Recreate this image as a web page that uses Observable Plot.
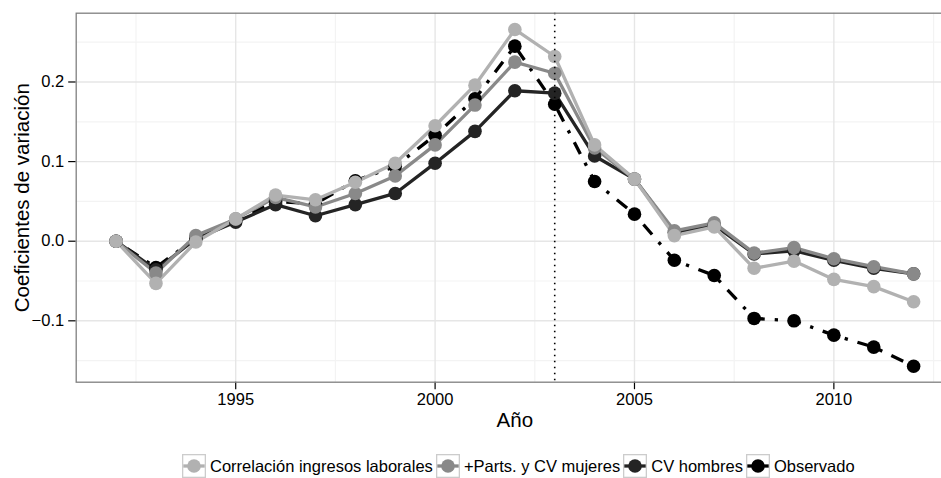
<!DOCTYPE html>
<html>
<head>
<meta charset="utf-8">
<script src="https://cdn.jsdelivr.net/npm/d3@7"></script>
<script src="https://cdn.jsdelivr.net/npm/@observablehq/plot@0.6"></script>
<style>
html, body { margin: 0; padding: 0; background: #fff; overflow: hidden; width: 941px; height: 478px; }
#wrap { position: relative; width: 941px; height: 478px; overflow: hidden; font-family: "Liberation Sans", Arial, sans-serif; }
#chart { width: 960px; }
#chart svg { max-width: none !important; }
#legend { position: absolute; left: 182px; top: 454px; display: flex; align-items: center; font-size: 16.5px; color: #000; white-space: nowrap; }
.item { display: flex; align-items: center; margin-right: 3px; }
.item svg { margin-right: 4px; display: block; }
</style>
</head>
<body>
<div id="wrap"><div id="chart"></div><div id="legend"></div></div>
<script>
// ---- data ----
const years = [1992, 1993, 1994, 1995, 1996, 1997, 1998, 1999, 2000, 2001, 2002,
               2003, 2004, 2005, 2006, 2007, 2008, 2009, 2010, 2011, 2012];

const seriesNames = ["Correlación ingresos laborales", "+Parts. y CV mujeres", "CV hombres", "Observado"];

const correlacion  = [0, -0.053, -0.001, 0.028, 0.058, 0.052, 0.074, 0.098, 0.145, 0.196, 0.266,
                      0.232, 0.121, 0.078, 0.007, 0.018, -0.034, -0.025, -0.048, -0.057, -0.076];
const partsMujeres = [0, -0.040, 0.007, 0.028, 0.055, 0.043, 0.060, 0.082, 0.121, 0.171, 0.225,
                      0.211, 0.117, 0.078, 0.013, 0.023, -0.015, -0.008, -0.022, -0.032, -0.041];
const cvHombres    = [0, -0.036, 0.003, 0.024, 0.046, 0.032, 0.046, 0.060, 0.098, 0.138, 0.189,
                      0.186, 0.107, 0.078, 0.011, 0.020, -0.016, -0.012, -0.024, -0.034, -0.041];
const observado    = [0, -0.033, 0.004, 0.026, 0.050, 0.047, 0.076, 0.094, 0.133, 0.179, 0.245,
                      0.172, 0.075, 0.034, -0.024, -0.043, -0.097, -0.100, -0.118, -0.133, -0.157];

const seriesValues = [correlacion, partsMujeres, cvHombres, observado];
const seriesColors = ["#b1b1b1", "#898989", "#242424", "#000000"];
const seriesDashed = [false, false, false, true];

const xTicks = [1995, 2000, 2005, 2010];
const yTicks = [-0.1, 0, 0.1, 0.2];
const xMinor = [1992.5, 1997.5, 2002.5, 2007.5, 2012.5];
const yMinor = [-0.15, -0.05, 0.05, 0.15, 0.25];
const markerYear = [2003];

const xTitle = "Año";
const yTitle = "Coeficientes de variación";

// ---- build ----
const W = 960, H = 440;
const series = seriesNames.map((name, i) => ({
  name, color: seriesColors[i], dashed: seriesDashed[i],
  rows: years.map((yr, j) => ({year: yr, value: seriesValues[i][j]}))
}));
const drawOrder = [3, 2, 1, 0];

const marks = [
  Plot.gridX(xMinor, {stroke: "#f3f3f3", strokeOpacity: 1, strokeWidth: 1.2}),
  Plot.gridY(yMinor, {stroke: "#f3f3f3", strokeOpacity: 1, strokeWidth: 1.2}),
  Plot.gridX(xTicks, {stroke: "#e6e6e6", strokeOpacity: 1, strokeWidth: 1.4}),
  Plot.gridY(yTicks, {stroke: "#e6e6e6", strokeOpacity: 1, strokeWidth: 1.4}),
  Plot.axisX({ticks: xTicks, tickFormat: d3.format("d"), tickSize: 7.5, tickPadding: 4, fontSize: 16.5, label: null, strokeWidth: 1.2}),
  Plot.axisY({ticks: yTicks, tickFormat: d3.format(".1f"), tickSize: 7.5, tickPadding: 4.5, fontSize: 16.5, label: null, strokeWidth: 1.2}),
  Plot.text([xTitle], {frameAnchor: "bottom", textAnchor: "middle", lineAnchor: "top", dy: 30, fontSize: 20.5, fill: "#000"}),
  Plot.text([yTitle], {frameAnchor: "left", textAnchor: "middle", lineAnchor: "middle", rotate: -90, dx: -54, fontSize: 20.5, fill: "#000"})
];
for (const i of drawOrder) {
  const s = series[i];
  marks.push(Plot.line(s.rows, {
    x: "year", y: "value", stroke: s.color, strokeWidth: 3.3,
    strokeLinecap: "butt", strokeLinejoin: "round",
    strokeDasharray: s.dashed ? "3.3,10,13.2,10" : null
  }));
}
for (const i of drawOrder) {
  const s = series[i];
  marks.push(Plot.dot(s.rows, {x: "year", y: "value", fill: s.color, r: 6.8, stroke: null}));
}
marks.push(Plot.ruleX(markerYear, {stroke: "#000", strokeWidth: 1.6, strokeDasharray: "1.6,4.4", strokeLinecap: "butt"}));
marks.push(Plot.frame({stroke: "#7f7f7f", strokeWidth: 1.3}));

const chart = Plot.plot({
  width: W, height: H,
  marginLeft: 75.7, marginRight: W - 953, marginTop: 12.7, marginBottom: H - 381.7,
  x: {domain: [1991, 2013], axis: null},
  y: {domain: [-0.1771, 0.2864], axis: null},
  style: {fontFamily: "'Liberation Sans', Arial, sans-serif", color: "#000", background: "#fff", overflow: "visible", maxWidth: "none"},
  marks
});
chart.style.maxWidth = "none";
chart.style.width = W + "px";
chart.style.height = H + "px";
document.getElementById("chart").appendChild(chart);

// ---- legend ----
const legend = document.getElementById("legend");
const ns = "http://www.w3.org/2000/svg";
series.forEach(s => {
  const item = document.createElement("div");
  item.className = "item";
  const k = 24;
  const svg = document.createElementNS(ns, "svg");
  svg.setAttribute("width", k); svg.setAttribute("height", k);
  const rect = document.createElementNS(ns, "rect");
  rect.setAttribute("x", 0.65); rect.setAttribute("y", 0.65);
  rect.setAttribute("width", k - 1.3); rect.setAttribute("height", k - 1.3);
  rect.setAttribute("fill", "#fff"); rect.setAttribute("stroke", "#cccccc"); rect.setAttribute("stroke-width", 1.3);
  svg.appendChild(rect);
  const ln = document.createElementNS(ns, "line");
  ln.setAttribute("x1", 1.3); ln.setAttribute("x2", k - 1.3);
  ln.setAttribute("y1", k / 2); ln.setAttribute("y2", k / 2);
  ln.setAttribute("stroke", s.color); ln.setAttribute("stroke-width", 3.3);
  svg.appendChild(ln);
  const c = document.createElementNS(ns, "circle");
  c.setAttribute("cx", k / 2); c.setAttribute("cy", k / 2); c.setAttribute("r", 6.8);
  c.setAttribute("fill", s.color);
  svg.appendChild(c);
  item.appendChild(svg);
  const t = document.createElement("span");
  t.textContent = s.name;
  item.appendChild(t);
  legend.appendChild(item);
});
</script>
</body>
</html>
